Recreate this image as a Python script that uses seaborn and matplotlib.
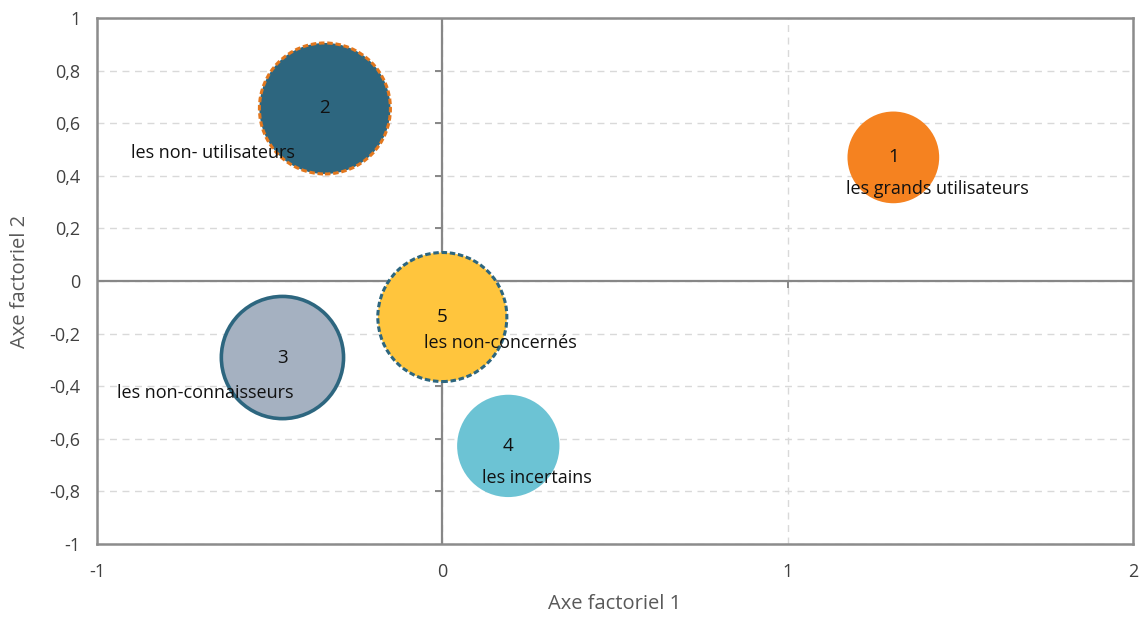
import matplotlib
matplotlib.use("Agg")
import matplotlib.pyplot as plt
import seaborn as sns
import pandas as pd
import numpy as np
from matplotlib.ticker import FuncFormatter, MultipleLocator
from matplotlib.markers import TICKLEFT, TICKDOWN

# Cluster coordinates on the first two factorial axes and their relative weight
groupes = ["1", "2", "3", "4", "5"]
noms = ["les grands utilisateurs", "les non- utilisateurs", "les non-connaisseurs",
        "les incertains", "les non-concernés"]
axe1 = [1.306, -0.340, -0.463, 0.191, 0.000]
axe2 = [0.470, 0.656, -0.291, -0.627, -0.137]
poids = [49, 100, 87, 61, 97]

df = pd.DataFrame({"groupe": groupes, "nom": noms, "axe1": axe1, "axe2": axe2, "poids": poids})

# Styling of each bubble
remplissage = ["#F58220", "#2D667F", "#A5B1C1", "#6CC3D4", "#FFC53D"]
contours = ["none", "#E2771E", "#2D667F", "none", "#2D667F"]
epaisseurs = [0, 2.2, 2.6, 0, 2.2]
traits = ["solid", (0, (1.8, 0.9)), "solid", "solid", (0, (1.8, 0.9))]
# Offsets (pixels) of the cluster names relative to the bubble centre
decalages = [(44, -32), (-112, -45), (-77, -35), (29, -32), (58, -26)]

sns.set_theme(style="white")
plt.rcParams["font.family"] = ["Open Sans", "DejaVu Sans"]

W, H = 1146, 623
fig = plt.figure(figsize=(W / 100, H / 100), dpi=100)
ax = fig.add_axes([97 / W, 1 - 544 / H, (1133 - 97) / W, (544 - 18) / H])

ax.set_xlim(-1, 2)
ax.set_ylim(-1, 1)
ax.xaxis.set_major_locator(MultipleLocator(1))
ax.yaxis.set_major_locator(MultipleLocator(0.2))
fmt = FuncFormatter(lambda v, p: ("%g" % round(v, 2)).replace(".", ","))
ax.xaxis.set_major_formatter(fmt)
ax.yaxis.set_major_formatter(fmt)

ax.grid(True, linestyle=(0, (5, 4)), color="#D9D9D9", linewidth=1)
ax.set_axisbelow(True)

# Axes crossing at the origin, with their own tick marks
gris = "#878787"
ax.axhline(0, color=gris, linewidth=1.6, zorder=1)
ax.axvline(0, color=gris, linewidth=1.6, zorder=1)
yt = [t for t in ax.get_yticks() if -1 < t < 1]
xt = [t for t in ax.get_xticks() if -1 < t < 2]
ax.plot(np.zeros(len(yt)), yt, ls="none", marker=TICKLEFT, ms=5, mew=1.4, color=gris, zorder=1)
ax.plot(xt, np.zeros(len(xt)), ls="none", marker=TICKDOWN, ms=5, mew=1.4, color=gris, zorder=1)

sns.scatterplot(data=df, x="axe1", y="axe2", hue="groupe", palette=remplissage,
                size="poids", sizes=(0, 8900), size_norm=(0, 100),
                legend=False, ax=ax, zorder=3)
bulles = ax.collections[-1]
bulles.set_edgecolors(contours)
bulles.set_linewidths(epaisseurs)
bulles.set_linestyles(traits)

for i, row in df.iterrows():
    ax.text(row["axe1"], row["axe2"], row["groupe"], ha="center", va="center",
            fontsize=13.5, color="#111111", zorder=4)
    ax.annotate(row["nom"], (row["axe1"], row["axe2"]), xytext=decalages[i],
                textcoords="offset pixels", ha="center", va="center",
                fontsize=13, color="#111111", zorder=4)

for s in ax.spines.values():
    s.set_color("#8C8C8C")
    s.set_linewidth(1.8)

ax.tick_params(axis="both", length=0, labelsize=13, labelcolor="#404040")
ax.tick_params(axis="y", pad=12)
ax.tick_params(axis="x", pad=14)

ax.set_xlabel("Axe factoriel 1", fontsize=14.5, color="#595959")
ax.set_ylabel("Axe factoriel 2", fontsize=14.5, color="#595959")
ax.xaxis.set_label_coords(0.5, (544 - 604) / 526)
ax.xaxis.label.set_va("center")
ax.yaxis.set_label_coords((20 - 97) / 1036, 0.5)
ax.yaxis.label.set_va("center")

fig.savefig("out.png", dpi=100)
